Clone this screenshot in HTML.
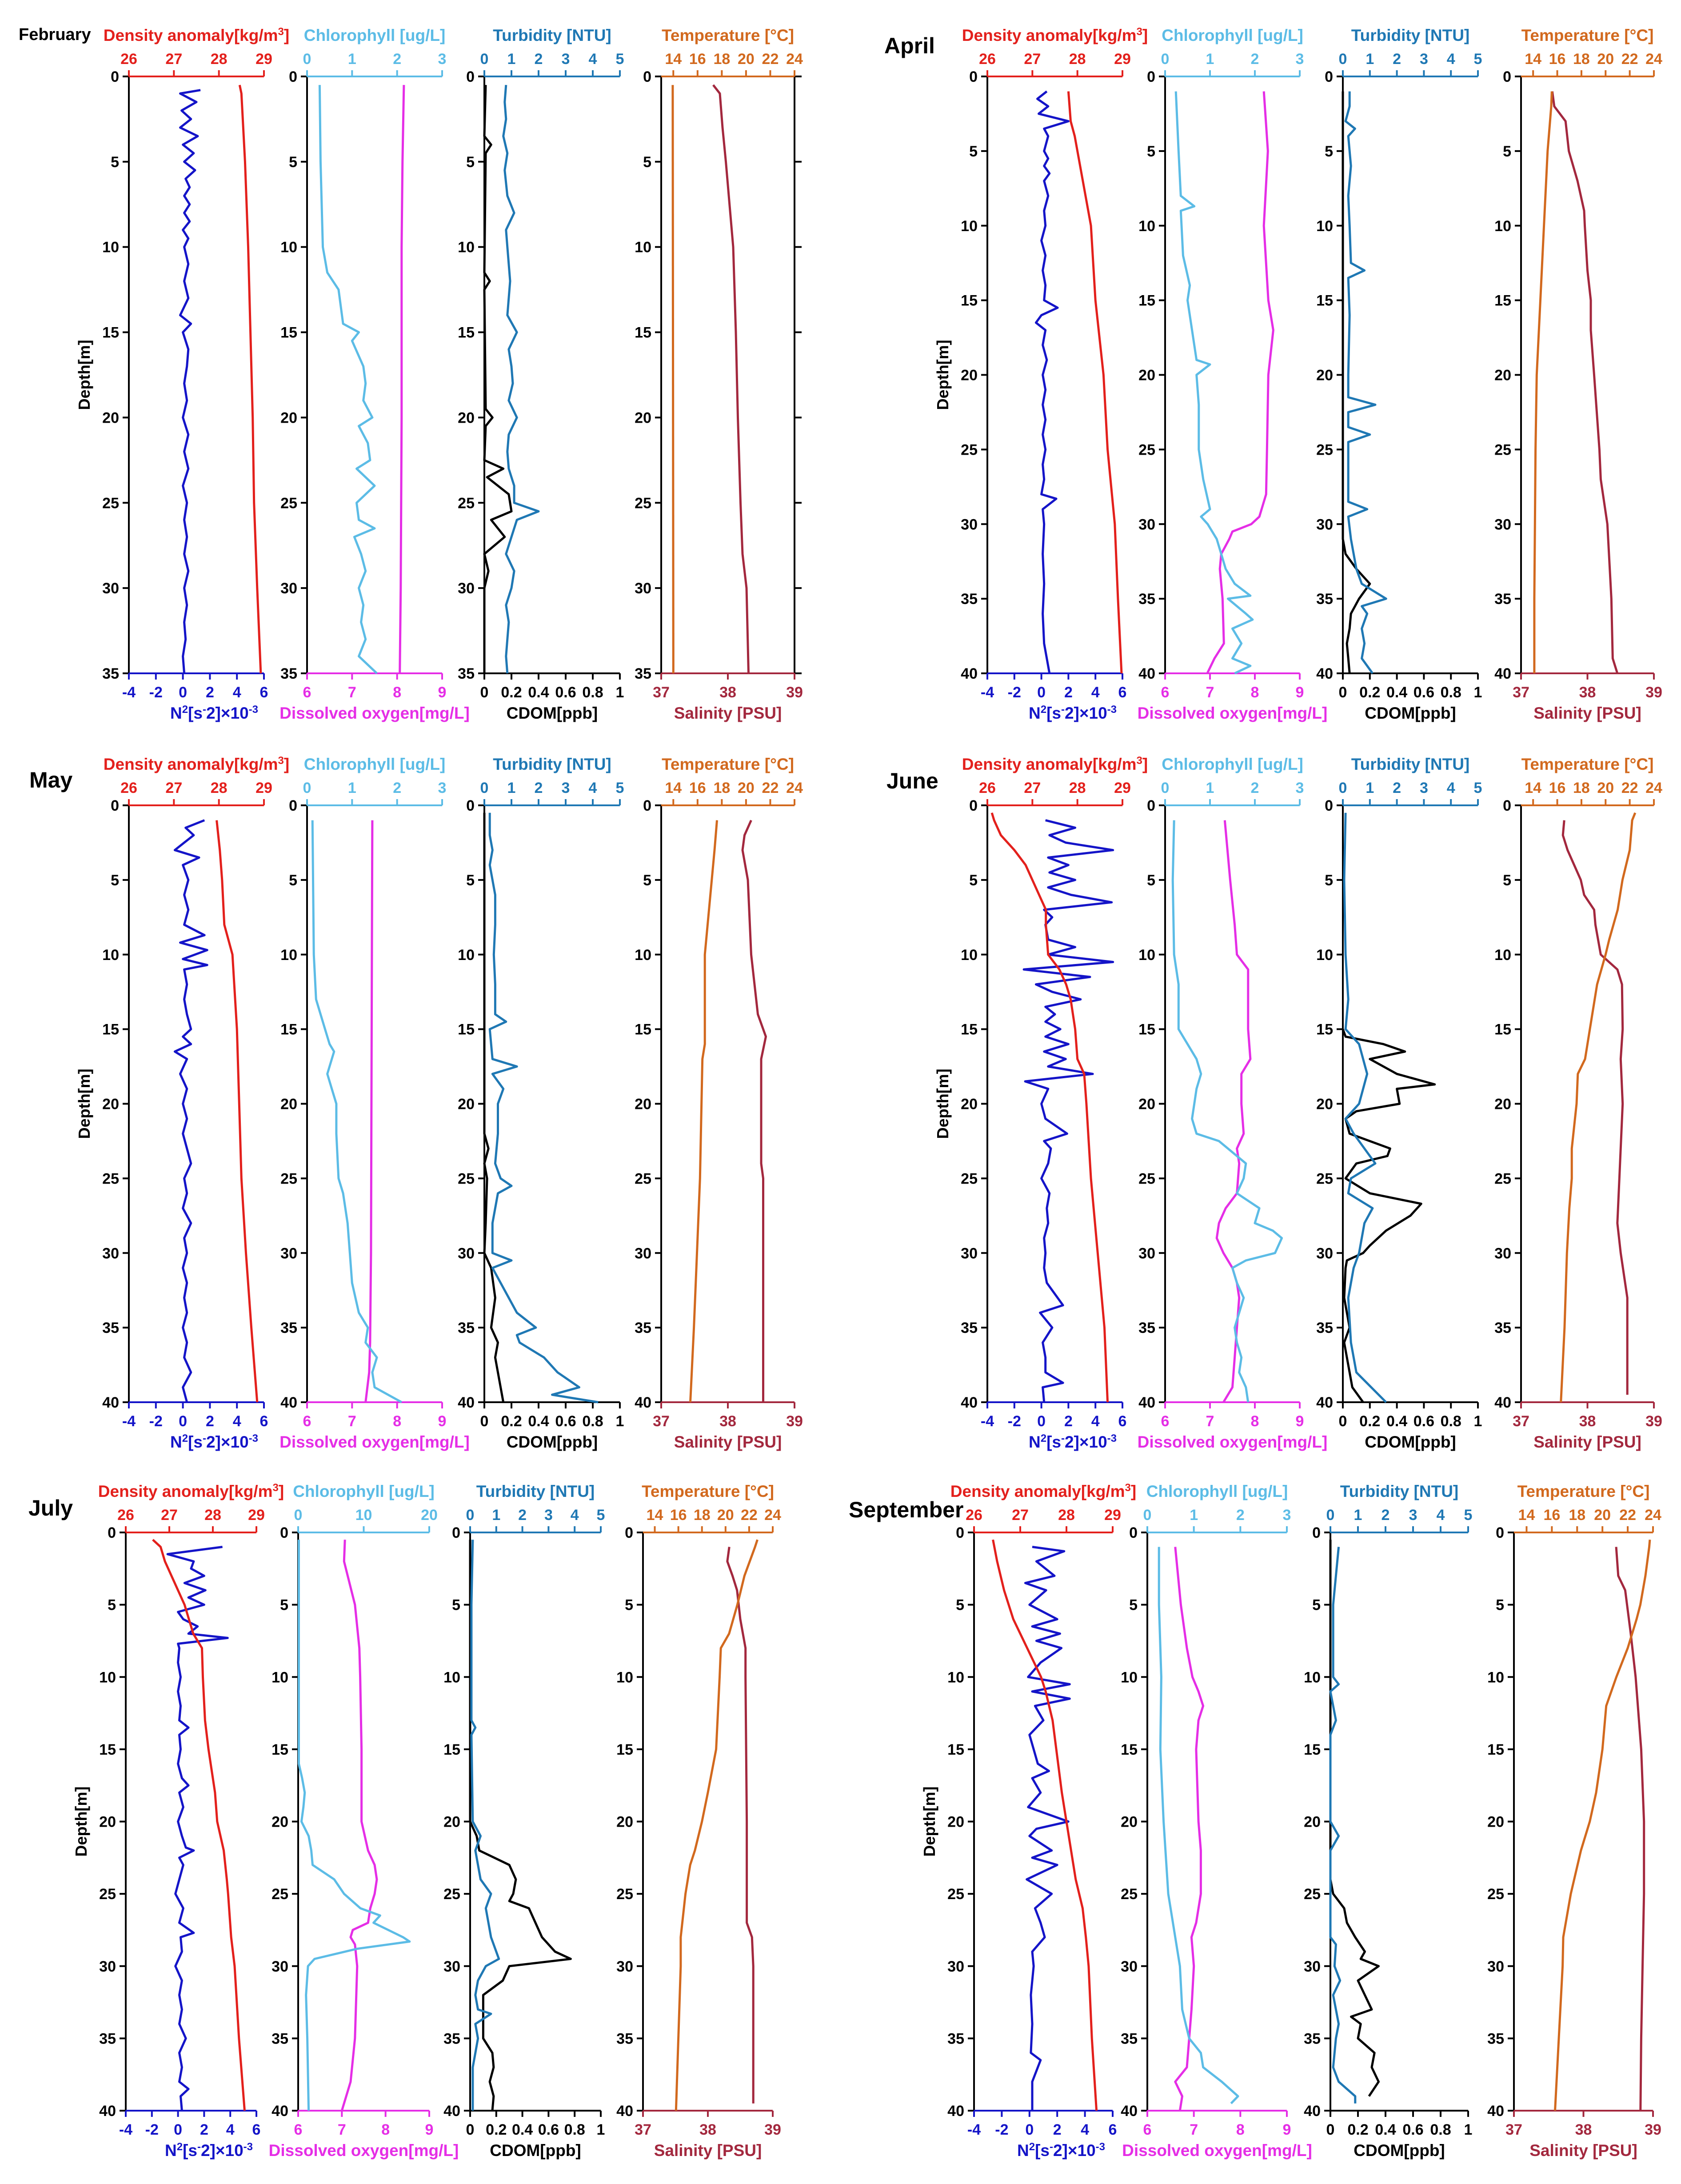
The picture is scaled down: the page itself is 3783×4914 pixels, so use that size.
<!DOCTYPE html>
<html><head><meta charset="utf-8"><style>
html,body{margin:0;padding:0;background:#fff}
svg{display:block;font-family:"Liberation Sans",Arial,sans-serif;font-weight:bold}
</style></head><body>
<svg id="chart" xmlns="http://www.w3.org/2000/svg" width="3783" height="4914" viewBox="0 0 3783 4914"></svg>
<script>
// ---- tick label arrays ----
const densTicks=[26,27,28,29], chlTicks=[0,1,2,3], chlTicksJul=[0,10,20], turbTicks=[0,1,2,3,4,5], tempTicks=[14,16,18,20,22,24];
const n2Ticks=[-4,-2,0,2,4,6], doTicks=[6,7,8,9], cdomTicks=[0,0.2,0.4,0.6,0.8,1], salTicks=[37,38,39];
const depthTicks35=[0,5,10,15,20,25,30,35], depthTicks40=[0,5,10,15,20,25,30,35,40];
// ---- February ----
const febN2=[[0.8,1.3],[1,-0.2],[1.5,1.0],[2,-0.1],[2.5,0.6],[3,-0.2],[3.5,1.1],[4,0.0],[4.5,0.8],[5,0.1],[5.5,0.9],[6,0.2],[6.5,0.5],[7,0.1],[7.5,0.5],[8,0.1],[8.5,0.5],[9,0.0],[9.5,0.4],[10,0.1],[11,0.4],[12,0.1],[13,0.4],[14,-0.2],[14.5,0.6],[15,0.0],[16,0.4],[17,0.3],[18,0.1],[19,0.3],[20,0.0],[21,0.4],[22,0.1],[23,0.4],[24,0.0],[25,0.3],[26,0.1],[27,0.3],[28,0.1],[29,0.4],[30,0.1],[31,0.3],[32,0.1],[33,0.2],[34,0.0],[35,0.1]];
const febDens=[[0.5,28.46],[1,28.5],[5,28.58],[10,28.65],[15,28.7],[20,28.75],[25,28.78],[30,28.85],[35,28.93]];
const febChl=[[0.5,0.28],[5,0.3],[10,0.35],[11.5,0.45],[12.5,0.7],[13.5,0.75],[14.5,0.8],[15,1.15],[15.5,1.0],[17,1.25],[18,1.3],[19,1.25],[20,1.45],[20.5,1.15],[21.5,1.35],[22.5,1.4],[23,1.1],[24,1.5],[25,1.1],[26,1.15],[26.5,1.5],[27,1.05],[28,1.2],[29,1.3],[30,1.15],[31,1.25],[32,1.2],[33,1.3],[34,1.15],[35,1.55]];
const febDO=[[0.5,8.15],[5,8.12],[10,8.1],[20,8.1],[30,8.08],[35,8.06]];
const febTurb=[[0.5,0.8],[1.5,0.75],[2.5,0.8],[3.5,0.7],[4.5,0.85],[5.5,0.75],[7,0.85],[8,1.1],[9,0.8],[10,0.85],[12,0.95],[14,0.85],[15,1.2],[16,0.9],[17,1.0],[18,1.05],[19,0.9],[20,1.2],[21,0.9],[22,0.85],[23,0.9],[24,1.1],[25,1.1],[25.5,2.0],[26,1.2],[27,1.0],[28,0.8],[29,1.1],[30,1.0],[31,0.8],[32,0.9],[33,0.85],[34,0.8],[35,0.85]];
const febCdom=[[0.5,0.01],[3.5,0.0],[4,0.05],[4.5,0.01],[11.5,0.0],[12,0.04],[12.5,0.0],[19.5,0.01],[20,0.06],[20.5,0.01],[22.5,0.0],[23,0.14],[23.5,0.02],[24.5,0.18],[25.5,0.2],[26,0.05],[27,0.15],[28,0.0],[29,0.03],[30,0.0],[35,0.0]];
const febTemp=[[0.5,13.95],[35,14.0]];
const febSal=[[0.5,37.78],[1,37.88],[3,37.92],[5,37.97],[10,38.08],[15,38.12],[20,38.15],[25,38.19],[28,38.22],[30,38.28],[35,38.31]];
// ---- April ----
const aprN2=[[1,0.4],[1.5,-0.3],[2,0.5],[2.5,-0.2],[3,2.0],[3.5,0.2],[4,0.5],[5,0.2],[5.5,0.5],[6,0.2],[6.5,0.6],[7,0.2],[8,0.5],[9,0.2],[10,0.3],[11,0.0],[12,0.3],[13,0.1],[14,0.3],[15,0.2],[15.5,1.2],[16,0.0],[16.5,-0.4],[17,0.3],[18,0.1],[19,0.4],[20,0.1],[21,0.3],[22,0.1],[23,0.3],[24,0.1],[25,0.3],[26,0.1],[27,0.2],[28,0.0],[28.3,1.1],[29,0.1],[30,0.2],[32,0.1],[34,0.2],[36,0.1],[38,0.2],[40,0.6]];
const aprDens=[[1,27.8],[3,27.85],[4,27.94],[10,28.3],[15,28.4],[20,28.58],[25,28.67],[30,28.83],[35,28.9],[40,28.98]];
const aprChl=[[1,0.24],[5,0.3],[8,0.35],[8.7,0.65],[9,0.35],[12,0.4],[14,0.55],[15,0.5],[17,0.6],[19,0.7],[19.3,1.0],[20,0.7],[22,0.75],[25,0.75],[27,0.85],[29,1.0],[29.5,0.8],[30,0.95],[31,1.15],[32,1.25],[33,1.35],[34,1.55],[34.8,1.9],[35,1.4],[36,1.8],[36.4,1.95],[37,1.5],[38,1.7],[39,1.5],[39.5,1.9],[40,1.55]];
const aprDO=[[1,8.2],[5,8.29],[10,8.2],[15,8.3],[17,8.41],[20,8.3],[25,8.27],[28,8.25],[29.5,8.1],[30,7.92],[30.5,7.5],[31,7.43],[32,7.25],[33,7.22],[35,7.28],[38,7.31],[39,7.1],[40,6.94]];
const aprTurb=[[1,0.25],[2,0.25],[3,0.1],[3.5,0.45],[4,0.2],[6,0.3],[8,0.2],[10,0.25],[12.5,0.3],[13,0.8],[13.5,0.2],[16,0.25],[20,0.2],[21.5,0.2],[22,1.2],[22.5,0.2],[23.5,0.2],[24,1.0],[24.5,0.2],[28.5,0.2],[29,0.9],[29.5,0.2],[31,0.3],[33,0.5],[34,0.7],[35,1.6],[35.5,0.7],[36,0.9],[37,0.7],[38,0.8],[39,0.7],[40,1.1]];
const aprCdom=[[1,0.0],[31,0.0],[32,0.02],[33,0.1],[34,0.2],[35,0.12],[36,0.06],[37,0.05],[38,0.03],[39,0.04],[40,0.05]];
const aprTemp=[[1,15.55],[2,15.5],[5,15.2],[10,14.9],[15,14.6],[20,14.3],[25,14.2],[30,14.15],[35,14.1],[40,14.1]];
const aprSal=[[1,37.47],[2,37.5],[3,37.67],[5,37.72],[7,37.85],[9,37.95],[10,37.96],[13,38.0],[15,38.05],[17,38.05],[20,38.1],[25,38.18],[27,38.2],[30,38.3],[35,38.36],[39,38.38],[40,38.45]];
// ---- May ----
const mayN2=[[1,1.6],[1.5,0.2],[2,0.8],[2.5,0.1],[3,-0.6],[3.5,1.2],[4,0.0],[5,0.4],[6,0.1],[7,0.4],[8,0.1],[8.7,1.6],[9.2,-0.2],[9.7,1.8],[10.3,0.0],[10.7,1.8],[11,0.1],[12,0.3],[13,0.1],[14,0.3],[15,0.6],[15.5,0.0],[16,0.6],[16.5,-0.6],[17,0.3],[18,-0.2],[19,0.3],[20,0.0],[21,0.3],[22,0.0],[23,0.3],[24,0.6],[25,0.1],[26,0.3],[27,0.0],[28,0.6],[29,0.1],[30,0.3],[31,0.0],[32,0.3],[33,0.1],[34,0.3],[35,0.0],[36,0.3],[37,0.1],[38,0.6],[39,0.0],[40,0.3]];
const mayDens=[[1,27.95],[3,28.02],[5,28.07],[8,28.12],[10,28.3],[15,28.4],[20,28.45],[25,28.5],[30,28.6],[35,28.72],[40,28.85]];
const mayChl=[[1,0.12],[10,0.15],[13,0.2],[14,0.3],[15,0.4],[16,0.5],[16.5,0.6],[17,0.55],[18,0.45],[19,0.55],[20,0.65],[22,0.65],[25,0.7],[26,0.8],[28,0.9],[30,0.95],[32,1.0],[34,1.15],[35,1.35],[36,1.3],[37,1.55],[38,1.45],[39,1.5],[40,2.1]];
const mayDO=[[1,7.45],[10,7.44],[20,7.43],[30,7.42],[36,7.4],[38,7.38],[40,7.3]];
const mayTurb=[[0.5,0.2],[2,0.2],[3,0.3],[4,0.2],[5,0.3],[6,0.4],[8,0.4],[10,0.35],[12,0.4],[14,0.4],[14.5,0.8],[15,0.2],[17,0.3],[17.5,1.2],[18,0.3],[19,0.7],[20,0.5],[22,0.5],[24,0.4],[25,0.6],[25.5,1.0],[26,0.5],[28,0.3],[30,0.3],[30.5,1.0],[31,0.3],[32,0.6],[33,0.9],[34,1.2],[35,1.9],[35.5,1.2],[36,1.3],[37,2.2],[38,2.7],[39,3.5],[39.5,2.5],[40,4.2]];
const mayCdom=[[0.5,0.0],[22,0.0],[23,0.03],[24,0.0],[25,0.02],[28,0.01],[30,0.0],[31,0.05],[33,0.08],[35,0.05],[36,0.1],[37,0.08],[38,0.1],[39,0.12],[40,0.14]];
const mayTemp=[[1,17.6],[3,17.4],[10,16.6],[16,16.6],[17,16.4],[25,16.2],[30,15.95],[35,15.7],[40,15.4]];
const maySal=[[1,38.35],[2,38.25],[3,38.22],[5,38.3],[10,38.35],[14,38.45],[15.5,38.57],[17,38.5],[24,38.5],[25,38.53],[40,38.53]];
// ---- June ----
const junN2=[[1,0.3],[1.5,2.5],[2,0.6],[2.5,1.8],[3,5.3],[3.5,0.5],[4,2.0],[4.5,0.6],[5,2.5],[5.5,0.5],[6,2.2],[6.5,5.2],[7,0.2],[7.5,0.8],[8,0.3],[9,0.5],[9.5,2.5],[10,0.5],[10.5,5.3],[11,-1.3],[11.5,3.6],[12,-0.4],[12.5,0.8],[13,2.9],[13.5,0.3],[14,1.0],[14.5,0.3],[15,1.4],[15.5,0.3],[16,2.0],[16.5,0.2],[17,1.8],[17.5,0.5],[18,3.8],[18.5,-1.2],[19,0.5],[20,0.0],[21,0.3],[22,1.9],[22.5,0.2],[23,0.7],[24,0.5],[25,0.0],[26,0.6],[27,0.4],[28,0.5],[29,0.2],[30,0.3],[31,0.2],[32,0.4],[33.5,1.6],[34,-0.1],[35,0.8],[36,0.1],[37,0.3],[38,0.3],[38.7,1.6],[39,0.1],[40,0.2]];
const junDens=[[0.5,26.1],[1,26.15],[2,26.3],[3,26.6],[4,26.85],[5,27.0],[6,27.15],[7,27.3],[8,27.3],[10,27.35],[11,27.6],[12,27.75],[13,27.85],[15,27.95],[17,28.0],[18,28.15],[20,28.2],[25,28.3],[30,28.45],[35,28.6],[40,28.67]];
const junChl=[[1,0.2],[5,0.17],[10,0.2],[12,0.3],[15,0.3],[16,0.5],[17,0.7],[18,0.8],[19,0.7],[20,0.65],[21,0.6],[22,0.7],[22.5,1.2],[23,1.4],[24,1.8],[25,1.75],[26,1.6],[27,2.1],[28,2.0],[28.5,2.4],[29,2.6],[30,2.45],[30.5,1.8],[31,1.5],[32,1.6],[33,1.75],[34,1.65],[35,1.55],[36,1.6],[37,1.7],[38,1.65],[39,1.8],[40,1.85]];
const junDO=[[1,7.33],[5,7.45],[8,7.55],[10,7.6],[11,7.85],[15,7.85],[17,7.9],[18,7.7],[20,7.7],[22,7.75],[23,7.6],[24,7.65],[26,7.6],[27,7.35],[28,7.2],[29,7.15],[30,7.3],[31,7.5],[32,7.6],[33,7.65],[35,7.6],[37,7.55],[39,7.5],[40,7.3]];
const junTurb=[[0.5,0.1],[5,0.05],[10,0.1],[13,0.2],[15,0.1],[16,0.6],[18,0.9],[20,0.6],[21,0.1],[22,0.4],[24,1.2],[25,0.3],[26,0.2],[27,1.1],[28,0.8],[30,0.6],[31,0.4],[33,0.2],[36,0.3],[38,0.5],[40,1.6]];
const junCdom=[[15,0.0],[15.5,0.02],[16,0.3],[16.5,0.46],[17,0.2],[18,0.4],[18.7,0.68],[19,0.4],[20,0.42],[20.5,0.1],[21,0.02],[22,0.05],[23,0.35],[23.5,0.33],[24,0.1],[25,0.02],[26,0.2],[26.7,0.58],[27.5,0.5],[28.5,0.32],[29.5,0.2],[30,0.15],[30.5,0.03],[31,0.02],[33,0.01],[35,0.05],[36,0.01],[38,0.05],[39,0.07],[40,0.15]];
const junTemp=[[0.5,22.45],[1,22.2],[3,22.0],[5,21.4],[7,21.0],[9,20.3],[10,20.0],[12,19.3],[15,18.7],[17,18.3],[18,17.7],[20,17.6],[23,17.2],[25,17.2],[27,17.0],[30,16.8],[35,16.6],[40,16.3]];
const junSal=[[1,37.65],[2,37.63],[3,37.7],[4,37.8],[5,37.9],[6,37.95],[7,38.1],[8,38.12],[9,38.16],[10,38.2],[11,38.45],[12,38.52],[15,38.53],[17,38.5],[20,38.53],[25,38.48],[28,38.45],[30,38.5],[33,38.6],[35,38.6],[39.5,38.6]];
// ---- July ----
const julN2=[[1,3.4],[1.5,-0.8],[2,1.2],[2.5,1.0],[3,2.0],[3.5,0.5],[4,2.1],[4.5,0.8],[5,2.0],[5.5,0.0],[6,0.4],[6.5,1.5],[7,0.8],[7.3,3.8],[7.7,0.0],[8,0.1],[9,0.0],[10,0.2],[11,0.0],[12,0.2],[13,0.1],[13.5,0.8],[14,0.1],[15,0.2],[16,0.0],[17,0.3],[17.5,0.8],[18,0.1],[19,0.4],[20,0.0],[21,0.3],[21.8,0.6],[22,1.2],[22.5,0.1],[23,0.4],[24,0.1],[25,-0.2],[26,0.4],[27,0.1],[27.7,1.2],[28,0.2],[29,0.3],[30,-0.2],[31,0.3],[32,0.1],[33,0.3],[34,0.1],[35,0.6],[36,0.1],[37,0.3],[38,0.1],[38.5,0.8],[39,0.2],[40,0.3]];
const julDens=[[0.5,26.62],[1,26.8],[2,26.9],[3,27.05],[4,27.2],[5,27.35],[6,27.45],[7,27.55],[8,27.75],[10,27.77],[13,27.82],[15,27.9],[18,28.05],[20,28.1],[22,28.25],[24,28.32],[25,28.35],[28,28.42],[30,28.5],[35,28.6],[40,28.73]];
const julChl=[[0.5,0.1],[16,0.1],[17,0.6],[18,1.0],[19,0.8],[20,0.5],[21,1.6],[22,2.0],[23,2.2],[24,5.5],[25,7.0],[26,9.5],[26.5,12.5],[27,11.5],[28,16],[28.3,17],[28.8,9],[29.5,2.5],[30,1.5],[32,1.2],[35,1.4],[40,1.6]];
const julDO=[[0.5,7.07],[2,7.05],[5,7.3],[8,7.4],[10,7.42],[15,7.45],[20,7.45],[22,7.6],[23,7.75],[24,7.8],[25,7.75],[26,7.65],[27,7.6],[27.5,7.25],[28,7.2],[28.5,7.3],[30,7.35],[35,7.3],[38,7.2],[40,7.0]];
const julTurb=[[0.5,0.1],[5,0.05],[10,0.05],[13,0.05],[13.5,0.2],[14,0.05],[20,0.1],[21,0.4],[22,0.2],[24,0.4],[25,0.8],[26,0.6],[28,0.8],[29.5,1.1],[30,0.6],[31,0.3],[32,0.2],[33,0.3],[33.3,0.8],[34,0.2],[35,0.3],[36,0.2],[37,0.1],[40,0.1]];
const julCdom=[[0.5,0.0],[20,0.0],[21,0.05],[22,0.07],[23,0.3],[24,0.35],[25,0.33],[25.5,0.3],[26,0.45],[27,0.5],[28,0.55],[29,0.65],[29.5,0.77],[30,0.3],[31,0.25],[32,0.1],[33,0.1],[34,0.1],[35,0.1],[36,0.17],[37,0.18],[38,0.15],[39,0.18],[40,0.17]];
const julTemp=[[0.5,22.7],[1,22.5],[3,21.6],[5,21.0],[7,20.3],[8,19.6],[10,19.5],[15,19.2],[18,18.5],[20,18.0],[22,17.4],[23,17.0],[25,16.6],[28,16.2],[30,16.2],[35,16.0],[40,15.8]];
const julSal=[[1,38.33],[2,38.3],[3,38.38],[4,38.45],[6,38.5],[8,38.58],[10,38.58],[20,38.6],[27,38.6],[28,38.68],[30,38.7],[39.5,38.7]];
// ---- September ----
const sepN2=[[1,0.2],[1.3,2.5],[2,0.5],[3,1.8],[3.5,-0.3],[4,1.2],[5,0.0],[6,2.0],[6.5,0.2],[7,2.2],[7.5,0.5],[8,2.3],[9,0.8],[10,-0.1],[10.5,2.9],[11,0.2],[11.5,2.9],[12,0.4],[13,1.0],[14,0.0],[15,0.3],[16,0.6],[16.5,1.4],[17,0.2],[18,0.8],[19,-0.1],[20,2.8],[20.5,0.5],[21,0.0],[22,1.6],[22.5,0.2],[23,2.0],[24,-0.2],[25,1.6],[26,0.4],[27,0.8],[28,1.1],[29,0.2],[30,0.3],[32,0.1],[34,0.2],[36,0.1],[36.5,0.8],[38,0.2],[40,0.2]];
const sepDens=[[0.5,26.41],[2,26.5],[4,26.65],[6,26.85],[7,27.0],[9,27.3],[10,27.45],[11,27.55],[13,27.7],[15,27.78],[18,27.9],[20,28.0],[22,28.1],[24,28.2],[26,28.35],[28,28.42],[30,28.48],[35,28.55],[40,28.65]];
const sepChl=[[1,0.25],[5,0.25],[10,0.3],[15,0.28],[20,0.35],[25,0.45],[28,0.6],[30,0.7],[33,0.75],[35,0.9],[36,1.15],[37,1.2],[38,1.6],[39,1.95],[39.5,1.8]];
const sepDO=[[1,6.6],[5,6.72],[8,6.85],[10,6.97],[11,7.1],[12,7.2],[13,7.1],[15,7.05],[20,7.1],[22,7.15],[25,7.15],[27,7.05],[28,6.95],[30,7.0],[33,6.95],[35,6.9],[37,6.85],[38,6.6],[39,6.75],[40,6.7]];
const sepTurb=[[1,0.3],[3,0.2],[5,0.1],[10,0.1],[10.5,0.3],[11,0.0],[13,0.2],[14,0.0],[20,0.0],[21,0.3],[22,0.0],[28,0.0],[28.5,0.2],[30,0.15],[31,0.35],[32,0.1],[34,0.3],[35,0.2],[37,0.1],[38,0.3],[39,0.9],[39.5,0.9]];
const sepCdom=[[0.5,0.0],[24,0.0],[25,0.02],[26,0.1],[27,0.12],[28,0.18],[29,0.25],[29.5,0.22],[30,0.35],[31,0.2],[32,0.25],[33,0.3],[33.5,0.15],[34,0.22],[35,0.2],[36,0.32],[37,0.3],[38,0.35],[39,0.28]];
const sepTemp=[[0.5,23.75],[1,23.7],[3,23.4],[5,23.0],[6,22.7],[8,22.0],[10,21.1],[12,20.3],[15,20.0],[18,19.5],[20,19.0],[22,18.3],[25,17.5],[28,16.9],[30,16.85],[35,16.55],[40,16.25]];
const sepSal=[[1,38.47],[3,38.5],[4,38.6],[7,38.68],[10,38.75],[15,38.83],[20,38.87],[25,38.87],[30,38.85],[35,38.83],[40,38.82]];

const C={dens:'#e3201c',n2:'#1414c8',chl:'#5cbce6',do:'#e52ee6',turb:'#1f78b4',cdom:'#000000',temp:'#d2691e',sal:'#a3283e'};
const NS='http://www.w3.org/2000/svg';
const svg=document.getElementById('chart');
function mk(tag,attrs,parent){const e=document.createElementNS(NS,tag);for(const k in attrs)e.setAttribute(k,attrs[k]);(parent||svg).appendChild(e);return e;}
function txt(x,y,s,size,color,anchor,parent){const t=mk('text',{x:x,y:y,'font-size':size,fill:color,'text-anchor':anchor||'middle'},parent);t.textContent=s;return t;}
function fmt(v){return (Math.round(v*10)/10).toString();}

function richText(g,x,y,parts,color,size){
  const t=mk('text',{x:x,y:y,'font-size':size,fill:color,'text-anchor':'middle'},g);
  parts.forEach(p=>{const s=mk('tspan',p[1]?{'baseline-shift':'super','font-size':size*0.65}:{},t);s.textContent=p[0];});
  return t;
}

function panel(P){
  const g=mk('g',{});
  
  
  const ml=txt(P.labelX,P.labelY,P.month,P.labelSize,'#000','start',g);
  
  
  const H=P.bot-P.top;
  const yOf=d=>P.top+d/P.dmax*H;
  const dt=P.dmax===35?depthTicks35:depthTicks40;
  const dl=txt(0,0,'Depth[m]',36,'#000','middle',g);
  dl.setAttribute('transform','translate('+(P.x[0][0]-88)+','+((P.top+P.bot)/2)+') rotate(-90)');
  
  
  P.subs.forEach((S,i)=>{
    const [xa,xb]=P.x[i];
    const sg=mk('g',{},g);
    
    
    const sx=(v,lo,hi)=>xa+(v-lo)/(hi-lo)*(xb-xa);
    mk('line',{x1:xa,y1:P.top,x2:xa,y2:P.bot,stroke:'#000','stroke-width':4},sg);
    dt.forEach(d=>{mk('line',{x1:xa-14,y1:yOf(d),x2:xa,y2:yOf(d),stroke:'#000','stroke-width':4},sg);
      const tl=txt(xa-22,yOf(d)+12,String(d),34,'#000','end',sg);
      
      });
    if(S.rightAxis){mk('line',{x1:xb,y1:P.top,x2:xb,y2:P.bot,stroke:'#000','stroke-width':4},sg);
      dt.forEach(d=>mk('line',{x1:xb,y1:yOf(d),x2:xb+16,y2:yOf(d),stroke:'#000','stroke-width':4},sg));}
    const T=S.top;
    mk('line',{x1:xa,y1:P.top,x2:xb,y2:P.top,stroke:T.color,'stroke-width':4},sg);
    T.ticks.forEach(v=>{const x=sx(v,T.lo,T.hi);mk('line',{x1:x,y1:P.top-14,x2:x,y2:P.top,stroke:T.color,'stroke-width':4},sg);
      const tl=txt(x,P.top-28,fmt(v),34,T.color,'middle',sg);
      
      });
    const tt=richText(sg,(xa+xb)/2,P.top-80,T.title,T.color,37);
    
    
    const B=S.bottom;
    mk('line',{x1:xa,y1:P.bot,x2:xb,y2:P.bot,stroke:B.color,'stroke-width':4},sg);
    B.ticks.forEach(v=>{const x=sx(v,B.lo,B.hi);mk('line',{x1:x,y1:P.bot,x2:x,y2:P.bot+14,stroke:B.color,'stroke-width':4},sg);
      const tl=txt(x,P.bot+P.btick,fmt(v),34,B.color,'middle',sg);
      
      });
    const bt=richText(sg,(xa+xb)/2+(B.dx||0),P.bot+P.btitle+(B.dy||0),B.title,B.color,37);
    
    
    [[B,S.bdata],[T,S.tdata]].forEach(([A,data])=>{
      const pts=data.map(p=>sx(p[1],A.lo,A.hi).toFixed(1)+','+yOf(p[0]).toFixed(1)).join(' ');
      const pl=mk('polyline',{points:pts,fill:'none',stroke:A.color,'stroke-width':5,'stroke-linejoin':'round'},sg);
      
      
    });
  });
}
function subs(d,chlHi,chlTk,rightAxis){
  return [
   {key:'density-n2',top:{key:'density',color:C.dens,lo:26,hi:29,ticks:densTicks,title:[['Density anomaly[kg/m'],['3',1],[']']]},tdata:d.dens,
    bottom:{key:'n2',color:C.n2,lo:-4,hi:6,ticks:n2Ticks,title:[['N'],['2',1],['[s'],['-',1],['2]×10'],['-3',1]],dx:40},bdata:d.n2},
   {key:'chl-do',top:{key:'chlorophyll',color:C.chl,lo:0,hi:chlHi,ticks:chlTk,title:[['Chlorophyll [ug/L]']]},tdata:d.chl,
    bottom:{key:'dissolved-oxygen',color:C.do,lo:6,hi:9,ticks:doTicks,title:[['Dissolved oxygen[mg/L]']]},bdata:d.do},
   {key:'turb-cdom',top:{key:'turbidity',color:C.turb,lo:0,hi:5,ticks:turbTicks,title:[['Turbidity [NTU]']]},tdata:d.turb,
    bottom:{key:'cdom',color:C.cdom,lo:0,hi:1,ticks:cdomTicks,title:[['CDOM[ppb]']]},bdata:d.cdom},
   {key:'temp-sal',top:{key:'temperature',color:C.temp,lo:13,hi:24,ticks:tempTicks,title:[['Temperature [°C]']]},tdata:d.temp,
    bottom:{key:'salinity',color:C.sal,lo:37,hi:39,ticks:salTicks,title:[['Salinity [PSU]']]},bdata:d.sal,rightAxis:rightAxis}
  ];
}
const XL=[[290,594],[691,995],[1090,1395],[1488,1788]];
const XR=[[2222,2526],[2622,2925],[3022,3326],[3423,3722]];
panel({name:'february',month:'February',labelX:42,labelY:90,labelSize:38,top:172,bot:1515,dmax:35,x:XL,btick:54,btitle:102,
  subs:subs({n2:febN2,dens:febDens,chl:febChl,do:febDO,turb:febTurb,cdom:febCdom,temp:febTemp,sal:febSal},3,chlTicks,true)});
panel({name:'april',month:'April',labelX:1990,labelY:120,labelSize:50,top:172,bot:1515,dmax:40,x:XR,btick:54,btitle:102,
  subs:subs({n2:aprN2,dens:aprDens,chl:aprChl,do:aprDO,turb:aprTurb,cdom:aprCdom,temp:aprTemp,sal:aprSal},3,chlTicks,false)});
panel({name:'may',month:'May',labelX:66,labelY:1772,labelSize:50,top:1812,bot:3155,dmax:40,x:XL,btick:54,btitle:102,
  subs:subs({n2:mayN2,dens:mayDens,chl:mayChl,do:mayDO,turb:mayTurb,cdom:mayCdom,temp:mayTemp,sal:maySal},3,chlTicks,false)});
panel({name:'june',month:'June',labelX:1995,labelY:1774,labelSize:50,top:1812,bot:3155,dmax:40,x:XR,btick:54,btitle:102,
  subs:subs({n2:junN2,dens:junDens,chl:junChl,do:junDO,turb:junTurb,cdom:junCdom,temp:junTemp,sal:junSal},3,chlTicks,false)});
panel({name:'july',month:'July',labelX:64,labelY:3410,labelSize:50,top:3448,bot:4749,dmax:40,x:[[283,577],[671,966],[1058,1352],[1447,1739]],btick:54,btitle:102,
  subs:subs({n2:julN2,dens:julDens,chl:julChl,do:julDO,turb:julTurb,cdom:julCdom,temp:julTemp,sal:julSal},20,chlTicksJul,false)});
panel({name:'september',month:'September',labelX:1910,labelY:3414,labelSize:50,top:3448,bot:4749,dmax:40,x:[[2192,2504],[2582,2896],[2994,3304],[3407,3720]],btick:54,btitle:102,
  subs:subs({n2:sepN2,dens:sepDens,chl:sepChl,do:sepDO,turb:sepTurb,cdom:sepCdom,temp:sepTemp,sal:sepSal},3,chlTicks,false)});
</script>
</body></html>
